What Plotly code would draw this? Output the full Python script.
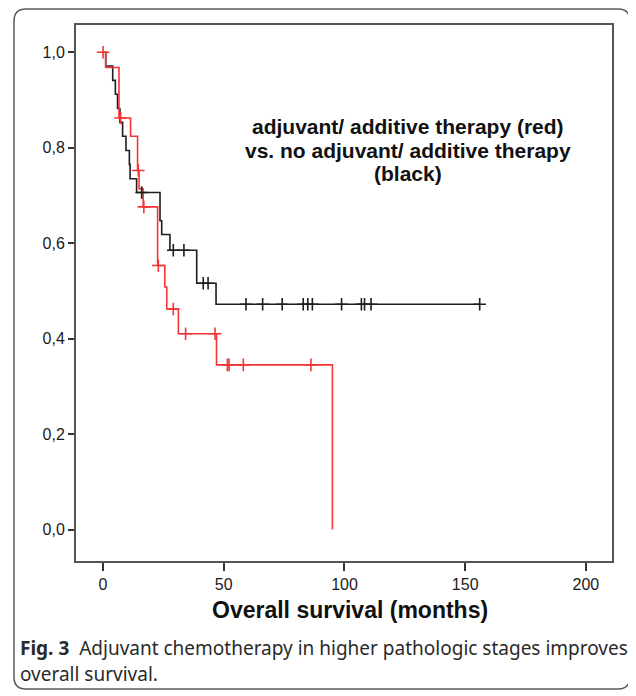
import plotly.graph_objects as go

# ---- data ----
# red: adjuvant / additive therapy
red_event_t = [1.1, 6.6, 11.4, 14.3, 14.9, 16.6, 22.6, 25.6, 26.4, 31.2, 47.0, 95.0]
red_event_s = [0.968, 0.862, 0.824, 0.752, 0.714, 0.676, 0.553, 0.508, 0.462, 0.410, 0.345, 0.0]
red_cens_t = [0.0, 7.3, 14.6, 16.9, 22.9, 29.1, 34.2, 46.4, 51.5, 52.2, 58.1, 86.1]
red_cens_s = [1.0, 0.862, 0.752, 0.676, 0.553, 0.462, 0.410, 0.410, 0.345, 0.345, 0.345, 0.345]

# black: no adjuvant / additive therapy
blk_event_t = [1.1, 4.0, 5.1, 6.0, 7.0, 8.1, 9.5, 10.9, 11.2, 13.9, 23.6, 24.3, 27.7, 38.8, 46.8]
blk_event_s = [0.971, 0.941, 0.912, 0.882, 0.853, 0.824, 0.794, 0.765, 0.735, 0.706, 0.647, 0.618, 0.585, 0.516, 0.472]
blk_cens_t = [16.0, 29.1, 33.5, 41.5, 43.5, 59.2, 66.1, 74.2, 82.9, 84.8, 86.7, 98.8, 107.0, 108.3, 111.0, 156.0]
blk_cens_s = [0.706, 0.585, 0.585, 0.516, 0.516, 0.472, 0.472, 0.472, 0.472, 0.472, 0.472, 0.472, 0.472, 0.472, 0.472, 0.472]
blk_end_t = 156.0

y_ticks = [0.0, 0.2, 0.4, 0.6, 0.8, 1.0]
y_tick_labels = ["0,0", "0,2", "0,4", "0,6", "0,8", "1,0"]
x_ticks = [0, 50, 100, 150, 200]

note_lines = ["adjuvant/ additive therapy (red)", "vs. no adjuvant/ additive therapy", "(black)"]

RED = "#f53535"
BLK = "#1e1e1e"

fig = go.Figure()

bx = [0.0] + blk_event_t + [blk_end_t]
by = [1.0] + blk_event_s + [blk_event_s[-1]]
fig.add_trace(go.Scatter(x=bx, y=by, mode="lines", line=dict(color=BLK, width=1.6, shape="hv"),
                         hoverinfo="skip", showlegend=False))
rx = [0.0] + red_event_t
ry = [1.0] + red_event_s
fig.add_trace(go.Scatter(x=rx, y=ry, mode="lines", line=dict(color=RED, width=1.6, shape="hv"),
                         hoverinfo="skip", showlegend=False))
fig.add_trace(go.Scatter(x=blk_cens_t, y=blk_cens_s, mode="markers",
                         marker=dict(symbol="cross-thin", size=9, line=dict(color=BLK, width=1.6)),
                         hoverinfo="skip", showlegend=False))
fig.add_trace(go.Scatter(x=red_cens_t, y=red_cens_s, mode="markers",
                         marker=dict(symbol="cross-thin", size=9, line=dict(color=RED, width=1.6)),
                         hoverinfo="skip", showlegend=False))

# page has an 8px body margin: figure occupies window pixels 8..636 x 8..696
OFF = 8
W, H = 636 - OFF, 696 - OFF
L, R, T, B = 76 - OFF, 636 - 612, 25 - OFF, 696 - 561
pw = W - L - R
ph = H - T - B

def px_x(p):
    return (p - OFF - L) / pw

def px_y(p):
    return (H - B - (p - OFF)) / ph

# outer rounded frame
x0, x1 = px_x(14), px_x(630)
y0, y1 = px_y(689), px_y(9)
r = 12 / pw
path = (f"M {x0+r},{y1} L {x1-r},{y1} Q {x1},{y1} {x1},{y1-r} "
        f"L {x1},{y0+r} Q {x1},{y0} {x1-r},{y0} L {x0+r},{y0} "
        f"Q {x0},{y0} {x0},{y0+r} L {x0},{y1-r} Q {x0},{y1} {x0+r},{y1} Z")
fig.add_shape(type="path", path=path, xref="paper", yref="paper",
              line=dict(color="#5a5a5a", width=1.5), fillcolor="rgba(0,0,0,0)", layer="below")

for line_text, ypx in zip(note_lines, [126, 150, 173]):
    fig.add_annotation(x=px_x(408), y=px_y(ypx), xref="paper", yref="paper", xanchor="center",
                       yanchor="middle", text=f"<b>{line_text}</b>", showarrow=False,
                       font=dict(family="Liberation Sans, Arial", size=21, color="#111111"))
fig.add_annotation(x=px_x(350), y=px_y(610), xref="paper", yref="paper", xanchor="center", yanchor="middle",
                   text="<b>Overall survival (months)</b>", showarrow=False,
                   font=dict(family="Liberation Sans, Arial", size=23, color="#111111"))
fig.add_annotation(x=px_x(18), y=px_y(648), xref="paper", yref="paper", xanchor="left", yanchor="middle",
                   text="<b>Fig. 3</b>  Adjuvant chemotherapy in higher pathologic stages improves",
                   showarrow=False, font=dict(family="Noto Sans", size=19, color="#2a2a2a"))
fig.add_annotation(x=px_x(18), y=px_y(674), xref="paper", yref="paper", xanchor="left", yanchor="middle",
                   text="overall survival.",
                   showarrow=False, font=dict(family="Noto Sans", size=19, color="#2a2a2a"))

fig.update_layout(
    width=W, height=H,
    margin=dict(l=L, r=R, t=T, b=B),
    paper_bgcolor="white", plot_bgcolor="white",
    font=dict(family="Liberation Sans, Arial", size=16, color="#1a1a1a"),
)
fig.update_xaxes(range=[-11.2, 210.8], tickvals=x_ticks, ticks="outside", ticklen=8, tickwidth=1.5,
                 tickcolor="#333333", showline=True, linecolor="#555555", linewidth=2, mirror=True,
                 showgrid=False, zeroline=False, tickfont=dict(size=16))
fig.update_yaxes(range=[-0.066, 1.057], tickvals=y_ticks, ticktext=y_tick_labels, ticks="outside",
                 ticklen=6, tickwidth=1.5, tickcolor="#333333", showline=True, linecolor="#555555",
                 linewidth=2, mirror=True, showgrid=False, zeroline=False, tickfont=dict(size=16))

fig.write_html("out.html")
